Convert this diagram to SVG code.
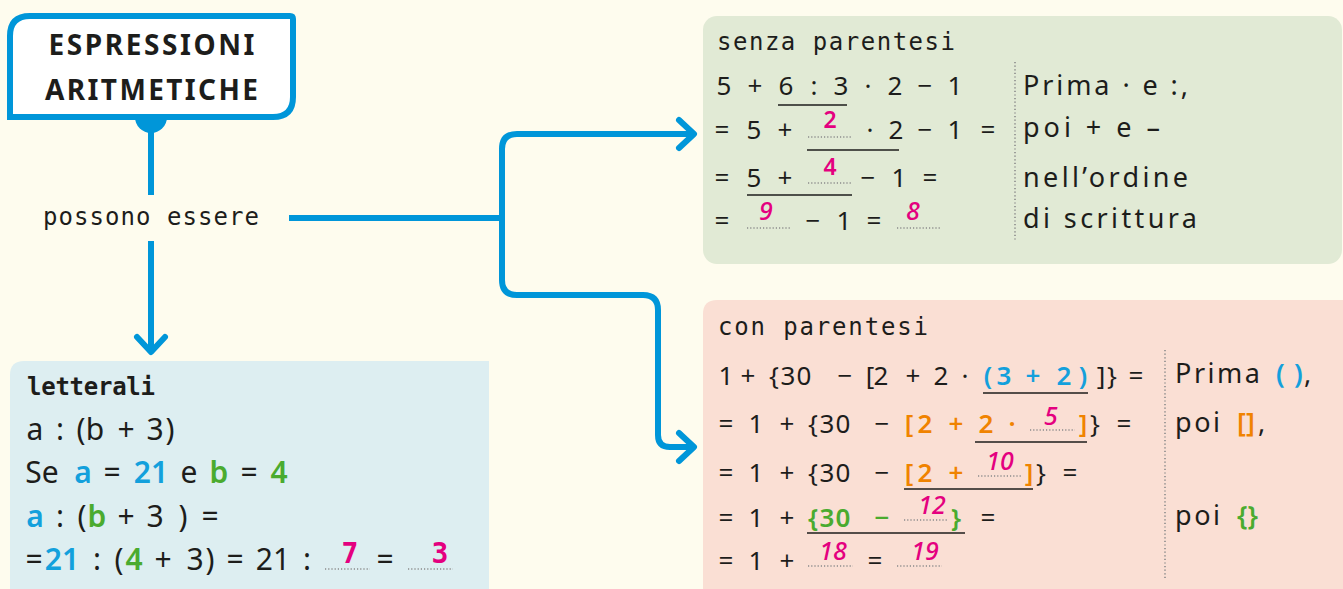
<svg xmlns="http://www.w3.org/2000/svg" width="1343" height="589" viewBox="0 0 1343 589">
  <defs>
    <style>
      .lbl { font-family: "DejaVu Sans Mono", "Liberation Mono", monospace; font-size: 24px; fill: #1d1d1b; }
      .lblb { font-family: "DejaVu Sans Mono", "Liberation Mono", monospace; font-size: 24px; font-weight: bold; fill: #1d1d1b; }
      .rc { font-family: "Noto Sans", "Liberation Sans", sans-serif; font-size: 27px; fill: #1d1d1b; }
      .ttl { font-family: "Noto Sans", "Liberation Sans", sans-serif; font-size: 28px; font-weight: bold; fill: #1d1d1b; }
      .m { font-family: "Noto Sans", "Liberation Sans", sans-serif; font-size: 26px; fill: #1d1d1b; }
      .ml { font-family: "Noto Sans", "Liberation Sans", sans-serif; font-size: 30px; fill: #1d1d1b; }
      .hw { font-family: "Noto Sans", "Liberation Sans", sans-serif; font-size: 25px; font-style: italic; font-weight: 500; fill: #e4007f; }
      .hwl { font-family: "DejaVu Sans Mono", "Liberation Mono", monospace; font-size: 28px; font-weight: bold; fill: #e4007f; }
      .hwu { font-family: "Noto Sans", "Liberation Sans", sans-serif; font-size: 23px; font-weight: 600; fill: #e4007f; }
      .cb { fill: #13a0dc; font-weight: 600; }
      .cg { fill: #4aab2f; font-weight: 600; }
      .co { fill: #f08300; font-weight: 600; }
      .dots { fill: none; stroke: #8a8a8a; stroke-width: 1.6; stroke-dasharray: 1.2 2; }
      .sep { fill: none; stroke: #8a8a8a; stroke-width: 1.6; stroke-dasharray: 1.2 2.4; }
      .ul { fill: none; stroke: #1d1d1b; stroke-width: 1.6; }
      .conn { fill: none; stroke: #0096d9; stroke-width: 6; }
    </style>
    <marker id="chev" markerUnits="userSpaceOnUse" viewBox="-22 -20 28 40" refX="0" refY="0" markerWidth="28" markerHeight="40" orient="auto" overflow="visible">
      <path d="M-15,-14 L0,0 L-15,14" fill="none" stroke="#0096d9" stroke-width="6" stroke-linecap="round" stroke-linejoin="round"/>
    </marker>
  </defs>

  <!-- page -->
  <rect x="0" y="0" width="1343" height="589" fill="#fefcee"/>

  <!-- connectors -->
  <g id="connectors">
    <line class="conn" x1="151" y1="120" x2="151" y2="195"/>
    <path class="conn" d="M151,241 V352" marker-end="url(#chev)"/>
    <path class="conn" d="M289,218 H502"/>
    <path class="conn" d="M502,218 V149 Q502,134 517,134 H694" marker-end="url(#chev)"/>
    <path class="conn" d="M502,218 V280 Q502,295 517,295 H643 Q658,295 658,310 V435 Q658,447 670,447 H694" marker-end="url(#chev)"/>
  </g>

  <!-- root node -->
  <g id="node-title">
    <circle cx="151" cy="117" r="16" fill="#0096d9"/>
    <path d="M10,117 V36 Q10,16 30,16 H290 Q293,16 293,19 V97 Q293,117 273,117 Z" fill="#ffffff" stroke="#0096d9" stroke-width="6"/>
    <text class="ttl" x="151.5" y="55" text-anchor="middle" textLength="206" lengthAdjust="spacing">ESPRESSIONI</text>
    <text class="ttl" x="151.5" y="100" text-anchor="middle" textLength="213" lengthAdjust="spacing">ARITMETICHE</text>
  </g>

  <!-- link label -->
  <g id="label-possono">
    <text class="lbl" x="43" y="225" textLength="216" lengthAdjust="spacing">possono essere</text>
  </g>

  <!-- letterali -->
  <g id="node-letterali">
    <path d="M10,589 V375 Q10,361 24,361 H489 V589 Z" fill="#ddeef1"/>
    <text class="lblb" x="27" y="395" textLength="128" lengthAdjust="spacing">letterali</text>
    <text class="ml" y="440" text-anchor="middle"><tspan x="35">a</tspan><tspan x="60">:</tspan><tspan x="81">(</tspan><tspan x="95">b</tspan><tspan x="126">+</tspan><tspan x="155">3</tspan><tspan x="170">)</tspan></text>
    <text class="ml" y="483" text-anchor="middle"><tspan x="42">Se</tspan><tspan x="83" class="cb">a</tspan><tspan x="112">=</tspan><tspan x="151" class="cb">21</tspan><tspan x="189">e</tspan><tspan x="219" class="cg">b</tspan><tspan x="249">=</tspan><tspan x="279" class="cg">4</tspan></text>
    <text class="ml" y="527" text-anchor="middle"><tspan x="35" class="cb">a</tspan><tspan x="60">:</tspan><tspan x="82">(</tspan><tspan x="97" class="cg">b</tspan><tspan x="126">+</tspan><tspan x="155">3</tspan><tspan x="183">)</tspan><tspan x="210">=</tspan></text>
    <text class="ml" y="570" text-anchor="middle"><tspan x="34">=</tspan><tspan x="62" class="cb">21</tspan><tspan x="97">:</tspan><tspan x="119">(</tspan><tspan x="134" class="cg">4</tspan><tspan x="163">+</tspan><tspan x="195">3</tspan><tspan x="210">)</tspan><tspan x="235">=</tspan><tspan x="273">21</tspan><tspan x="307">:</tspan><tspan x="385">=</tspan></text>
    <line class="dots" x1="325" y1="569" x2="370" y2="569"/>
    <line class="dots" x1="408" y1="569" x2="453" y2="569"/>
    <text class="hwl" y="563" text-anchor="middle"><tspan x="350">7</tspan><tspan x="440">3</tspan></text>
  </g>

  <!-- senza parentesi -->
  <g id="node-senza">
    <rect x="703" y="16" width="639" height="248" rx="14" fill="#e1ead5"/>
    <text class="lbl" x="717" y="50" textLength="238" lengthAdjust="spacing">senza parentesi</text>
    <text class="m" y="95" text-anchor="middle"><tspan x="724">5</tspan><tspan x="755">+</tspan><tspan x="786">6</tspan><tspan x="814">:</tspan><tspan x="841">3</tspan><tspan x="868">·</tspan><tspan x="895">2</tspan><tspan x="925">−</tspan><tspan x="955">1</tspan></text>
    <line class="ul" x1="778" y1="105" x2="847" y2="105"/>
    <text class="m" y="139" text-anchor="middle"><tspan x="722">=</tspan><tspan x="754">5</tspan><tspan x="785">+</tspan><tspan x="870">·</tspan><tspan x="896">2</tspan><tspan x="925">−</tspan><tspan x="955">1</tspan><tspan x="988">=</tspan></text>
    <line class="dots" x1="808" y1="137" x2="852" y2="137"/>
    <text class="hwu" x="830" y="128" text-anchor="middle">2</text>
    <line class="ul" x1="807" y1="150" x2="899" y2="150"/>
    <text class="m" y="187" text-anchor="middle"><tspan x="722">=</tspan><tspan x="754">5</tspan><tspan x="785">+</tspan><tspan x="868">−</tspan><tspan x="899">1</tspan><tspan x="930">=</tspan></text>
    <line class="dots" x1="808" y1="183" x2="852" y2="183"/>
    <text class="hwu" x="830" y="175" text-anchor="middle">4</text>
    <line class="ul" x1="747" y1="195" x2="852" y2="195"/>
    <text class="m" y="230" text-anchor="middle"><tspan x="722">=</tspan><tspan x="813">−</tspan><tspan x="844">1</tspan><tspan x="874">=</tspan></text>
    <line class="dots" x1="747" y1="228" x2="790" y2="228"/>
    <line class="dots" x1="897" y1="228" x2="940" y2="228"/>
    <text class="hw" y="220" text-anchor="middle"><tspan x="766">9</tspan><tspan x="913">8</tspan></text>
    <line class="sep" x1="1015" y1="62" x2="1015" y2="240"/>
    <text class="rc" x="1023" y="95" textLength="165" lengthAdjust="spacing">Prima · e :,</text>
    <text class="rc" x="1023" y="137" textLength="137" lengthAdjust="spacing">poi + e –</text>
    <text class="rc" x="1023" y="187" textLength="165" lengthAdjust="spacing">nell’ordine</text>
    <text class="rc" x="1023" y="228" textLength="174" lengthAdjust="spacing">di scrittura</text>
  </g>

  <!-- con parentesi -->
  <g id="node-con">
    <path d="M703,589 V314 Q703,300 717,300 H1343 V589 Z" fill="#fadfd4"/>
    <text class="lbl" x="718" y="335" textLength="210" lengthAdjust="spacing">con parentesi</text>
    <text class="m" y="385" text-anchor="middle"><tspan x="726">1</tspan><tspan x="748">+</tspan><tspan x="774">{</tspan><tspan x="788">3</tspan><tspan x="804">0</tspan><tspan x="845">−</tspan><tspan x="870">[</tspan><tspan x="881">2</tspan><tspan x="913">+</tspan><tspan x="941">2</tspan><tspan x="965">·</tspan><tspan x="988" class="cb">(</tspan><tspan x="1004" class="cb">3</tspan><tspan x="1033" class="cb">+</tspan><tspan x="1064" class="cb">2</tspan><tspan x="1083" class="cb">)</tspan><tspan x="1101">]</tspan><tspan x="1112">}</tspan><tspan x="1136">=</tspan></text>
    <line class="ul" x1="983" y1="393" x2="1088" y2="393" stroke="#13a0dc"/>
    <text class="m" y="433" text-anchor="middle"><tspan x="726">=</tspan><tspan x="756">1</tspan><tspan x="787">+</tspan><tspan x="813">{</tspan><tspan x="827">3</tspan><tspan x="843">0</tspan><tspan x="882">−</tspan><tspan x="909" class="co">[</tspan><tspan x="925" class="co">2</tspan><tspan x="956" class="co">+</tspan><tspan x="986" class="co">2</tspan><tspan x="1012" class="co">·</tspan><tspan x="1083" class="co">]</tspan><tspan x="1095">}</tspan><tspan x="1124">=</tspan></text>
    <line class="dots" x1="1030" y1="430" x2="1075" y2="430" stroke="#f08300"/>
    <text class="hw" x="1051" y="425" text-anchor="middle">5</text>
    <line class="ul" x1="975" y1="442" x2="1087" y2="442" stroke="#f08300"/>
    <text class="m" y="482" text-anchor="middle"><tspan x="726">=</tspan><tspan x="756">1</tspan><tspan x="787">+</tspan><tspan x="813">{</tspan><tspan x="827">3</tspan><tspan x="843">0</tspan><tspan x="882">−</tspan><tspan x="909" class="co">[</tspan><tspan x="925" class="co">2</tspan><tspan x="956" class="co">+</tspan><tspan x="1029" class="co">]</tspan><tspan x="1041">}</tspan><tspan x="1070">=</tspan></text>
    <line class="dots" x1="978" y1="476" x2="1022" y2="476" stroke="#f08300"/>
    <text class="hw" x="1000" y="470" text-anchor="middle">10</text>
    <line class="ul" x1="904" y1="489" x2="1033" y2="489" stroke="#f08300"/>
    <text class="m" y="527" text-anchor="middle"><tspan x="726">=</tspan><tspan x="756">1</tspan><tspan x="787">+</tspan><tspan x="813" class="cg">{</tspan><tspan x="827" class="cg">3</tspan><tspan x="843" class="cg">0</tspan><tspan x="882" class="cg">−</tspan><tspan x="956" class="cg">}</tspan><tspan x="988">=</tspan></text>
    <line class="dots" x1="904" y1="520" x2="948" y2="520" stroke="#4aab2f"/>
    <text class="hw" x="932" y="514" text-anchor="middle">12</text>
    <line class="ul" x1="807" y1="533" x2="965" y2="533" stroke="#4aab2f"/>
    <text class="m" y="570" text-anchor="middle"><tspan x="726">=</tspan><tspan x="756">1</tspan><tspan x="787">+</tspan><tspan x="875">=</tspan></text>
    <line class="dots" x1="808" y1="566" x2="853" y2="566"/>
    <line class="dots" x1="897" y1="566" x2="942" y2="566"/>
    <text class="hw" y="560" text-anchor="middle"><tspan x="833">18</tspan><tspan x="925">19</tspan></text>
    <line class="sep" x1="1165" y1="350" x2="1165" y2="578"/>
    <text class="rc" y="383"><tspan x="1175" textLength="85" lengthAdjust="spacing">Prima</tspan><tspan x="1276" class="cb">(</tspan><tspan x="1294" class="cb">)</tspan><tspan x="1304">,</tspan></text>
    <text class="rc" y="432"><tspan x="1175" textLength="45" lengthAdjust="spacing">poi</tspan><tspan x="1237" class="co">[]</tspan><tspan x="1258">,</tspan></text>
    <text class="rc" y="525"><tspan x="1175" textLength="45" lengthAdjust="spacing">poi</tspan><tspan x="1237" class="cg">{}</tspan></text>
  </g>
</svg>
